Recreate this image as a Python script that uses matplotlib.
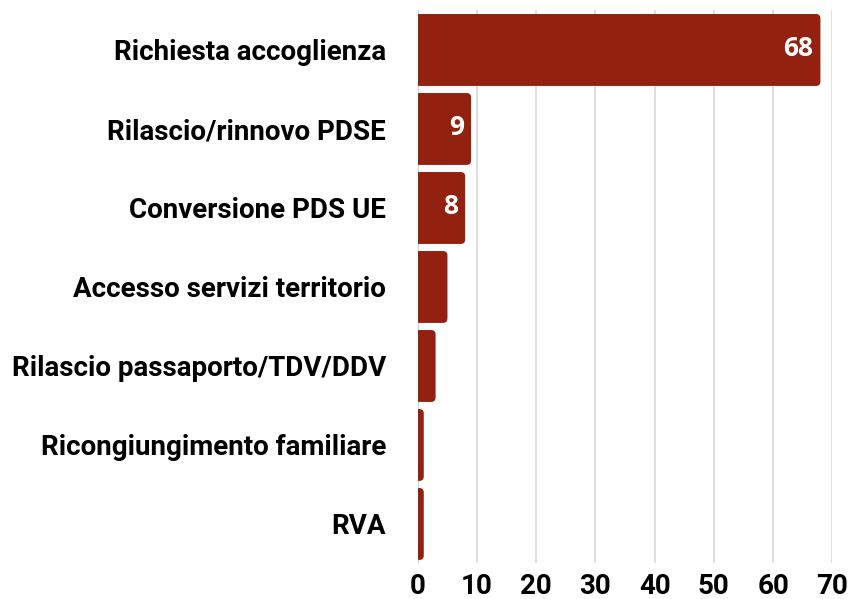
import matplotlib.pyplot as plt
from matplotlib.patches import FancyBboxPatch

# data
categories = ["Richiesta accoglienza", "Rilascio/rinnovo PDSE", "Conversione PDS UE",
              "Accesso servizi territorio", "Rilascio passaporto/TDV/DDV",
              "Ricongiungimento familiare", "RVA"]
values = [68, 9, 8, 5, 3, 1, 1]
xticks = [0, 10, 20, 30, 40, 50, 60, 70]

bar_color = "#92210f"
plt.rcParams['font.family'] = ['Roboto', 'DejaVu Sans']

fig = plt.figure(figsize=(8.51, 5.99), dpi=100)
ax = fig.add_axes([0.491, 0.0593, 0.487, 0.9232])

ax.set_xlim(0, 70)
ax.set_ylim(len(values) - 0.5, -0.5)

# px per data unit, for rounding corners equally in x and y
px_x = 0.487 * 851 / 70
px_y = 0.9232 * 599 / len(values)
aspect = px_x / px_y
bh = 0.91

for i, v in enumerate(values):
	# start left of zero so the left corners are clipped by the axes
	box = FancyBboxPatch((-1, i - bh / 2), v + 1, bh,
	                     boxstyle="round,pad=0,rounding_size=0.75",
	                     mutation_aspect=aspect,
	                     facecolor=bar_color, edgecolor="none", zorder=3)
	ax.add_patch(box)
	if v > 5:
		ax.text(v - 1.25, i - 0.02, str(v), ha='right', va='center', color='white',
		        fontsize=19, fontweight='bold', family=['Open Sans', 'DejaVu Sans'],
		        zorder=4)

ax.set_yticks(range(len(categories)))
ax.set_yticklabels(categories, fontsize=20, fontweight='bold')
ax.set_xticks(xticks)
ax.set_xticklabels([str(t) for t in xticks], fontsize=20, fontweight='bold')
ax.tick_params(axis='y', length=0, pad=23)
ax.tick_params(axis='x', length=0, pad=7)

ax.grid(axis='x', color='#d9d9d9', linewidth=1.2, zorder=0)
for s in ax.spines.values():
	s.set_visible(False)
ax.axvline(0, color='#b0b0b0', linewidth=1.5, zorder=1)

fig.savefig("out.png", dpi=100)
